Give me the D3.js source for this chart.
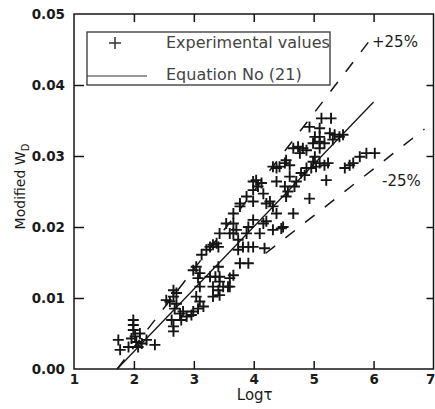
<!DOCTYPE html>
<html><head><meta charset="utf-8">
<script src="https://cdn.jsdelivr.net/npm/d3@7"></script>
<style>
html,body{margin:0;padding:0;background:#fff;}
svg{display:block;}
</style></head>
<body>
<svg id="chart" width="435" height="409"></svg>
<script>
// ---------- data ----------
const xTicks = [1, 2, 3, 4, 5, 6, 7];
const yTicks = [0.00, 0.01, 0.02, 0.03, 0.04, 0.05];
const legendLabels = ["Experimental values", "Equation No (21)"];
const bandLabels = ["+25%", "-25%"];

// experimental values: Log tau
const logTau = [
  1.74,1.77,1.99,1.99,1.99,2.02,2.04,2.10,2.13,2.21,2.35,1.91,2.07,1.96,
  2.66,2.66,2.60,2.71,2.68,2.77,2.63,2.66,2.66,2.79,2.88,2.54,2.71,2.82,
  2.99,3.04,3.10,3.07,3.10,3.10,3.07,2.99,3.16,3.04,2.96,3.13,3.21,
  3.32,3.38,3.41,3.43,3.27,3.36,3.43,3.43,3.32,3.49,3.41,3.60,3.57,3.66,3.77,3.91,3.27,3.32,3.43,3.60,3.41,
  3.66,3.66,3.54,3.66,3.71,3.77,3.77,3.88,3.74,3.82,3.91,3.99,3.88,3.91,3.99,3.60,3.74,
  3.99,4.04,3.99,4.07,4.13,4.16,4.21,3.99,4.16,4.21,4.18,4.10,4.32,4.38,4.46,4.32,4.27,4.49,
  4.32,4.38,4.43,4.52,4.54,4.60,4.38,4.52,4.54,4.66,4.68,4.71,4.60,4.57,
  4.66,4.74,4.82,4.88,4.77,4.99,4.93,5.10,5.13,5.29,5.02,5.10,5.10,5.18,5.27,5.35,5.43,5.49,5.32,5.10,5.02,
  4.79,4.88,4.96,5.04,5.10,5.18,5.24,5.21,4.93,4.85,4.99,
  5.52,5.66,5.77,5.88,6.02,5.60
];
// experimental values: modified W_D
const modifiedWd = [
  0.0041,0.0027,0.0069,0.0062,0.0055,0.0046,0.0038,0.0050,0.0036,0.0041,0.0034,0.0031,0.0031,0.0043,
  0.0111,0.0102,0.0095,0.0092,0.0085,0.0078,0.0069,0.0060,0.0053,0.0069,0.0074,0.0097,0.0107,0.0081,
  0.0139,0.0144,0.0135,0.0128,0.0116,0.0095,0.0085,0.0081,0.0088,0.0102,0.0076,0.0161,0.0168,
  0.0175,0.0177,0.0172,0.0191,0.0172,0.0130,0.0130,0.0123,0.0116,0.0116,0.0111,0.0128,0.0116,0.0132,0.0149,0.0149,0.0130,0.0102,0.0104,0.0116,0.0144,
  0.0219,0.0205,0.0205,0.0191,0.0196,0.0229,0.0233,0.0243,0.0182,0.0172,0.0172,0.0172,0.0191,0.0200,0.0210,0.0191,0.0168,
  0.0264,0.0266,0.0252,0.0257,0.0262,0.0247,0.0233,0.0236,0.0205,0.0208,0.0170,0.0191,0.0229,0.0219,0.0198,0.0196,0.0236,0.0200,
  0.0285,0.0283,0.0285,0.0290,0.0294,0.0287,0.0264,0.0257,0.0243,0.0219,0.0257,0.0264,0.0271,0.0250,
  0.0311,0.0313,0.0311,0.0308,0.0304,0.0318,0.0341,0.0339,0.0353,0.0353,0.0327,0.0327,0.0320,0.0318,0.0332,0.0330,0.0327,0.0330,0.0323,0.0311,0.0299,
  0.0276,0.0283,0.0283,0.0285,0.0290,0.0287,0.0290,0.0266,0.0240,0.0273,0.0292,
  0.0283,0.0290,0.0299,0.0304,0.0304,0.0287
];

// Equation No (21) and +/-25% bands (end points)
const equationX = [1.72, 6.0];
const equationY = [0.0, 0.0376];
const upperX = [1.72, 5.93];
const upperY = [0.0, 0.0462];
const lowerX = [4.2, 6.85];
const lowerY = [0.0163, 0.0338];

// ---------- drawing ----------
const svg = d3.select("#chart");
const x = d3.scaleLinear().domain([1, 7]).range([74, 433.5]);
const y = d3.scaleLinear().domain([0, 0.05]).range([369, 14]);
const ink = "#151515";
const tickFont = "DejaVu Sans, sans-serif";

// frame
svg.append("rect")
  .attr("x", x(1)).attr("y", y(0.05))
  .attr("width", x(7) - x(1)).attr("height", y(0) - y(0.05))
  .attr("fill", "none").attr("stroke", ink).attr("stroke-width", 1.5);

function styleAxis(g) {
  g.select(".domain").remove();
  g.selectAll(".tick line").attr("stroke", ink).attr("stroke-width", 1.5);
  g.selectAll(".tick text").attr("fill", "#1a1a1a")
    .style("font-family", tickFont).style("font-size", "13.5px").style("font-weight", "bold");
}

svg.append("g").attr("transform", `translate(0,${y(0)})`)
  .call(d3.axisBottom(x).tickValues(xTicks).tickSize(-8).tickPadding(5).tickFormat(d3.format("d")))
  .call(styleAxis)
  .call(g => g.selectAll(".tick").filter(d => d === 1 || d === 7).select("line").remove())
  .call(g => g.selectAll(".tick").filter(d => d === 7).select("text").attr("text-anchor", "end").attr("x", 1.5));

svg.append("g").attr("transform", `translate(${x(1)},0)`)
  .call(d3.axisLeft(y).tickValues(yTicks).tickSize(-10).tickPadding(9).tickFormat(d3.format(".2f")))
  .call(styleAxis)
  .call(g => g.selectAll(".tick").filter(d => d === 0 || d === 0.05).select("line").remove());

svg.append("g").attr("transform", `translate(0,${y(0.05)})`)
  .call(d3.axisTop(x).tickValues(xTicks.slice(1, -1)).tickSize(-8).tickFormat(""))
  .call(styleAxis);

svg.append("g").attr("transform", `translate(${x(7)},0)`)
  .call(d3.axisRight(y).tickValues(yTicks.slice(1, -1)).tickSize(-7).tickFormat(""))
  .call(styleAxis);

// axis titles
svg.append("text")
  .attr("x", (x(1) + x(7)) / 2 + 1).attr("y", 400)
  .attr("text-anchor", "middle")
  .style("font-family", tickFont).style("font-size", "15px").attr("fill", "#1a1a1a")
  .text("Logτ");

const yt = svg.append("text")
  .attr("transform", `translate(25,${(y(0) + y(0.05)) / 2 - 5}) rotate(-90)`)
  .attr("text-anchor", "middle")
  .style("font-family", tickFont).style("font-size", "14px").attr("fill", "#1a1a1a");
yt.append("tspan").text("Modified W");
yt.append("tspan").attr("dy", 4).style("font-size", "10px").text("D");

// lines
const line = d3.line().x(d => x(d[0])).y(d => y(d[1]));
svg.append("path").datum(d3.zip(equationX, equationY))
  .attr("d", line).attr("fill", "none").attr("stroke", ink).attr("stroke-width", 1.3);
svg.append("path").datum(d3.zip(upperX, upperY))
  .attr("d", line).attr("fill", "none").attr("stroke", ink).attr("stroke-width", 1.5)
  .attr("stroke-dasharray", "12,13");
svg.append("path").datum(d3.zip(lowerX, lowerY))
  .attr("d", line).attr("fill", "none").attr("stroke", ink).attr("stroke-width", 1.5)
  .attr("stroke-dasharray", "12,13");

// points
const plus = "M-5.5,0H5.5M0,-5.5V5.5";
svg.append("g").selectAll("path").data(d3.zip(logTau, modifiedWd)).join("path")
  .attr("transform", d => `translate(${x(d[0])},${y(d[1])})`)
  .attr("d", plus).attr("fill", "none").attr("stroke", ink).attr("stroke-width", 1.9);

// legend
const lg = svg.append("g");
lg.append("rect").attr("x", 87).attr("y", 32).attr("width", 243).attr("height", 53)
  .attr("fill", "#fff").attr("stroke", "#333").attr("stroke-width", 1.3);
lg.append("path").attr("transform", "translate(115,43)").attr("d", "M-6,0H6M0,-6V6")
  .attr("fill", "none").attr("stroke", "#333").attr("stroke-width", 1.5);
lg.append("line").attr("x1", 87).attr("x2", 147).attr("y1", 76).attr("y2", 76)
  .attr("stroke", "#333").attr("stroke-width", 1.2);
lg.selectAll("text").data(legendLabels).join("text")
  .attr("x", 166).attr("y", (d, i) => [48, 80][i])
  .style("font-family", tickFont).style("font-size", "16px").attr("fill", "#444")
  .text(d => d);

// band labels
svg.selectAll("text.band").data(bandLabels).join("text").attr("class", "band")
  .attr("x", (d, i) => [372, 382][i]).attr("y", (d, i) => [47, 186][i])
  .style("font-family", tickFont).style("font-size", "15px").attr("fill", "#1a1a1a")
  .text(d => d);
</script>
</body></html>
